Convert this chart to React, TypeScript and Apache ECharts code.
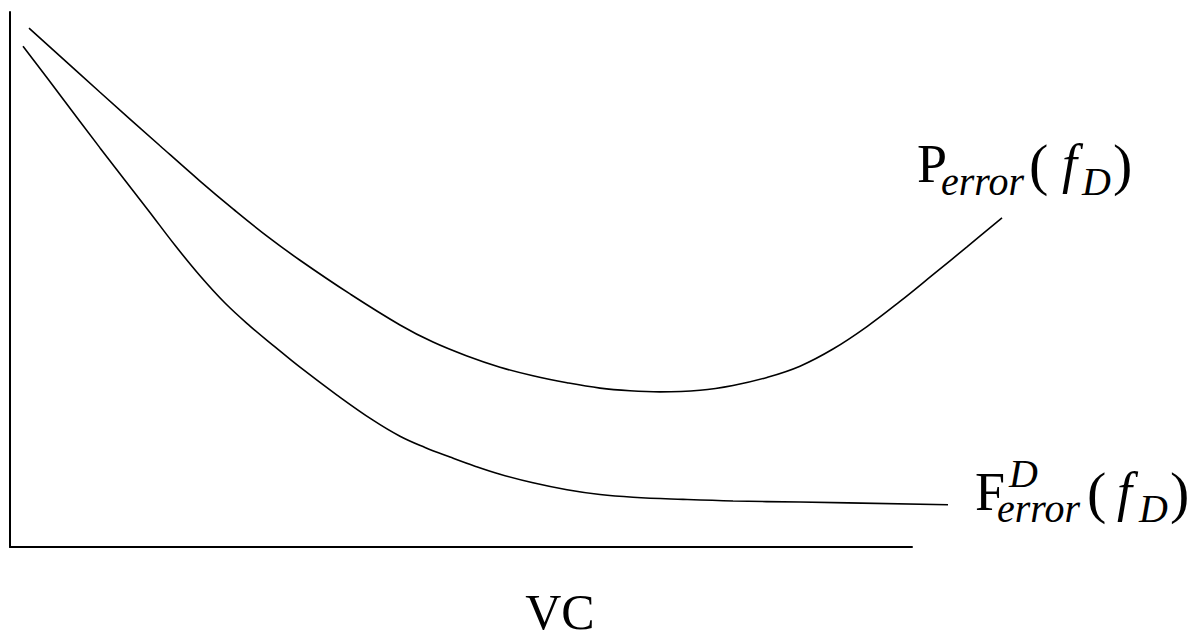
import React, { useEffect, useRef } from "react";
import * as echarts from "echarts";

// Curve P_error(f_D): VC (x) vs error (y)
const pX = [1.9, 9.0, 15.0, 19.0, 22.3, 25.7, 29.0, 34.0, 39.0, 42.3, 45.7, 49.0, 52.3, 55.7, 59.0, 62.0, 65.0, 69.0, 72.3, 75.7, 79.0, 82.3, 85.7, 89.0, 92.3, 95.7, 99.2];
const pY = [97.0, 85.0, 75.0, 68.4, 63.2, 58.1, 53.6, 47.3, 41.5, 38.3, 35.7, 33.6, 32.0, 30.7, 29.7, 29.2, 29.0, 29.3, 30.2, 31.7, 33.8, 37.0, 41.2, 45.9, 50.9, 56.1, 61.5];

// Curve F^D_error(f_D)
const fX = [1.3, 5.0, 9.0, 13.8, 16.5, 19.0, 21.5, 24.0, 26.5, 29.0, 32.7, 36.3, 39.0, 41.5, 44.0, 46.5, 49.0, 52.3, 55.7, 59.0, 62.3, 67.3, 72.3, 79.0, 93.8];
const fY = [93.6, 84.5, 74.6, 63.0, 56.4, 50.7, 45.6, 41.3, 37.4, 33.6, 28.4, 23.7, 20.7, 18.6, 16.8, 15.1, 13.6, 12.0, 10.7, 9.8, 9.3, 8.9, 8.6, 8.4, 7.9];

const xAxisTitle = "VC";

const FAMILY = "Liberation Serif";
const M = 54; // main font size
const S = 40; // sub/superscript font size
const PAREN = 58; // parenthesis font size

function t(text: string, x: number, baseline: number, size: number, italic = false, align = "left") {
  return {
    type: "text",
    x,
    y: baseline - 0.3375 * size,
    silent: true,
    style: {
      text,
      fontFamily: FAMILY,
      fontSize: size,
      fontStyle: italic ? "italic" : "normal",
      fill: "#000",
      align,
      verticalAlign: "middle",
    },
  };
}

export default function App() {
  const ref = useRef<HTMLDivElement>(null);

  useEffect(() => {
    if (!ref.current) return;
    const chart = echarts.init(ref.current, null, { renderer: "svg" });
    const axisStyle = { show: true, onZero: false, lineStyle: { color: "#000", width: 2 } };
    const curve = { color: "#000", width: 1.6 };

    chart.setOption({
      animation: false,
      backgroundColor: "#fff",
      grid: [
        { left: 10, top: 12, width: 902, height: 535 },
        { left: 10, top: 12, width: 1000, height: 535 },
      ],
      xAxis: [
        {
          type: "value", gridIndex: 0, min: 0, max: 90.2,
          axisLine: axisStyle, axisTick: { show: false }, axisLabel: { show: false }, splitLine: { show: false },
        },
        { type: "value", gridIndex: 1, min: 0, max: 100, show: false },
      ],
      yAxis: [
        {
          type: "value", gridIndex: 0, min: 0, max: 100,
          axisLine: axisStyle, axisTick: { show: false }, axisLabel: { show: false }, splitLine: { show: false },
        },
        { type: "value", gridIndex: 1, min: 0, max: 100, show: false },
      ],
      series: [
        {
          name: "Perror(fD)",
          type: "line",
          xAxisIndex: 1,
          yAxisIndex: 1,
          data: pX.map((x, i) => [x, pY[i]]),
          showSymbol: false,
          smooth: 0.4,
          lineStyle: curve,
          silent: true,
        },
        {
          name: "FDerror(fD)",
          type: "line",
          xAxisIndex: 1,
          yAxisIndex: 1,
          data: fX.map((x, i) => [x, fY[i]]),
          showSymbol: false,
          smooth: 0.4,
          lineStyle: curve,
          silent: true,
        },
      ],
      graphic: [
        // P_error(f_D)
        t("P", 917, 182, M),
        t("error", 941, 195, S, true),
        t("(", 1029, 184, PAREN),
        t("f", 1062, 182, M, true),
        t("D", 1082, 195, S, true),
        t(")", 1113, 184, PAREN),
        // F^D_error(f_D)
        t("F", 975, 510, M),
        t("D", 1009, 487, S, true),
        t("error", 997, 522, S, true),
        t("(", 1087, 512, PAREN),
        t("f", 1117, 510, M, true),
        t("D", 1139, 522, S, true),
        t(")", 1170, 512, PAREN),
        // axis title
        t(xAxisTitle, 560, 629, 50, false, "center"),
      ],
    });
    return () => chart.dispose();
  }, []);

  return (
    <div
      ref={ref}
      style={{ position: "fixed", left: 0, top: 0, width: 1202, height: 631, background: "#fff" }}
    />
  );
}
